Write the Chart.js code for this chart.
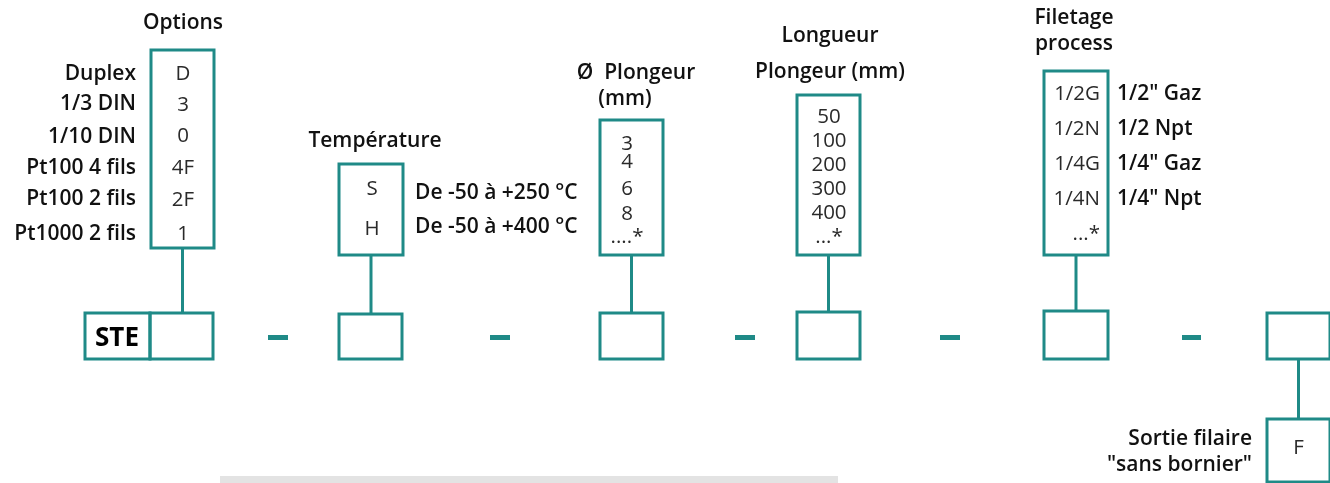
<!DOCTYPE html>
<html>
<head>
<meta charset="utf-8">
<script src="https://cdn.jsdelivr.net/npm/chart.js@4.4.1/dist/chart.umd.min.js"></script>
<style>
  html, body { margin: 0; padding: 0; background: #fff; }
  #chart { display: block; }
</style>
</head>
<body>
<canvas id="chart" width="1330" height="483"></canvas>
<script>
// code values and their meaning, per field of the reference
const optionCodes = ["D", "3", "0", "4F", "2F", "1"];
const optionLabels = ["Duplex", "1/3 DIN", "1/10 DIN", "Pt100 4 fils", "Pt100 2 fils", "Pt1000 2 fils"];
const tempCodes = ["S", "H"];
const tempLabels = ["De -50 à +250 °C", "De -50 à +400 °C"];
const diameterCodes = ["3", "4", "6", "8", "....*"];
const lengthCodes = ["50", "100", "200", "300", "400", "...*"];
const threadCodes = ["1/2G", "1/2N", "1/4G", "1/4N", "...*"];
const threadLabels = ['1/2" Gaz', "1/2 Npt", '1/4" Gaz', '1/4" Npt'];
const outputCodes = ["F"];
const outputLabels = ["Sortie filaire", '"sans bornier"'];
const prefix = "STE";

const TEAL = "#1f8a87";
const FONT = "'Open Sans', 'Noto Sans', sans-serif";

// layout of each field (diagram units = pixels of the reference)
const fields = [
  { title: ["Options"], titleX: 183, titleY: [22], box: [151, 50, 214, 248],
    codes: optionCodes, codeX: 183, codeY: [73, 104, 135, 167, 199, 233], align: "center",
    labels: optionLabels, labelSide: "left", labelX: 136, labelY: [73, 103, 136, 167, 198, 233],
    slot: [150, 313, 213, 359] },
  { title: ["Température"], titleX: 375, titleY: [140], box: [339, 164, 403, 255],
    codes: tempCodes, codeX: 372, codeY: [188, 228], align: "center",
    labels: tempLabels, labelSide: "right", labelX: 415, labelY: [192, 226],
    slot: [339, 314, 402, 359] },
  { title: ["Ø  Plongeur", "(mm)"], titleX: 636, titleXs: [636, 625], titleY: [72, 98], box: [600, 120, 663, 255],
    codes: diameterCodes, codeX: 627, codeY: [143, 161, 188, 213, 236], align: "center",
    labels: [], slot: [600, 313, 663, 359] },
  { title: ["Longueur", "Plongeur (mm)"], titleX: 830, titleY: [35, 71], box: [797, 95, 860, 255],
    codes: lengthCodes, codeX: 829, codeY: [116, 140, 164, 188, 212, 236], align: "center",
    labels: [], slot: [797, 312, 860, 359] },
  { title: ["Filetage", "process"], titleX: 1074, titleY: [17, 43], box: [1044, 71, 1108, 255],
    codes: threadCodes, codeX: 1100, codeY: [93, 128, 163, 198, 233], align: "right",
    labels: threadLabels, labelSide: "right", labelX: 1117, labelY: [93, 128, 163, 198],
    slot: [1044, 311, 1108, 359] }
];
const dashes = [[268, 288], [490, 510], [735, 755], [940, 960], [1182, 1201]];
const outputSlot = [1267, 313, 1330, 359];
const outputBox = [1267, 419, 1330, 482];

const diagramPlugin = {
  id: "diagram",
  afterDraw(chart) {
    const ctx = chart.ctx;
    const X = v => chart.scales.x.getPixelForValue(v);
    const Y = v => chart.scales.y.getPixelForValue(v);
    const box = (b, lw) => {
      ctx.lineWidth = lw || 3;
      ctx.strokeStyle = TEAL;
      ctx.strokeRect(X(b[0]), Y(b[1]), X(b[2]) - X(b[0]), Y(b[3]) - Y(b[1]));
    };
    const line = (x0, y0, x1, y1) => {
      ctx.lineWidth = 3;
      ctx.strokeStyle = TEAL;
      ctx.beginPath();
      ctx.moveTo(X(x0), Y(y0));
      ctx.lineTo(X(x1), Y(y1));
      ctx.stroke();
    };
    // text centre is nudged down a little to match the reference glyph placement
    const text = (s, x, y, align, font, color) => {
      ctx.font = font;
      ctx.fillStyle = color;
      ctx.textAlign = align;
      ctx.textBaseline = "middle";
      ctx.fillText(s, X(x), Y(y + 1.5));
    };
    ctx.save();
    const bold = "600 21px " + FONT;
    const reg = "400 20.5px " + FONT;

    fields.forEach(f => {
      f.title.forEach((t, i) => {
        const tx = f.titleXs ? f.titleXs[i] : f.titleX;
        text(t, tx, f.titleY[i], "center", bold, "#111");
      });
      box(f.box);
      const cx = (f.box[0] + f.box[2]) / 2;
      line(cx, f.box[3], cx, f.slot[1]);
      box(f.slot);
      f.codes.forEach((c, i) => text(c, f.codeX, f.codeY[i], f.align, reg, "#2a2a2a"));
      f.labels.forEach((l, i) => text(l, f.labelX, f.labelY[i], f.labelSide === "left" ? "right" : "left", bold, "#111"));
    });

    // STE prefix cell
    box([85, 313, 150, 359]);
    text(prefix, 117, 337, "center", "700 26px " + FONT, "#000");

    // separators
    ctx.fillStyle = TEAL;
    dashes.forEach(d => {
      ctx.fillRect(X(d[0]), Y(335), X(d[1]) - X(d[0]), Y(340) - Y(335));
    });

    // output field
    box(outputSlot);
    const ox = (outputSlot[0] + outputSlot[2]) / 2;
    line(ox, outputSlot[3], ox, outputBox[1]);
    box(outputBox);
    text(outputCodes[0], ox, 447, "center", reg, "#2a2a2a");
    outputLabels.forEach((l, i) => text(l, 1252, [438, 464][i], "right", bold, "#111"));

    // grey scroll bar at the bottom
    ctx.fillStyle = "#e3e3e3";
    ctx.fillRect(X(220), Y(476), X(838) - X(220), Y(483) - Y(476));
    ctx.restore();
  }
};

new Chart(document.getElementById("chart"), {
  type: "scatter",
  data: { datasets: [{ data: [], pointRadius: 0 }] },
  options: {
    responsive: false,
    animation: false,
    layout: { padding: 0 },
    plugins: { legend: { display: false }, tooltip: { enabled: false } },
    scales: {
      x: { type: "linear", min: 0, max: 1330, display: false },
      y: { type: "linear", min: 0, max: 483, reverse: true, display: false }
    }
  },
  plugins: [diagramPlugin]
});
</script>
</body>
</html>
